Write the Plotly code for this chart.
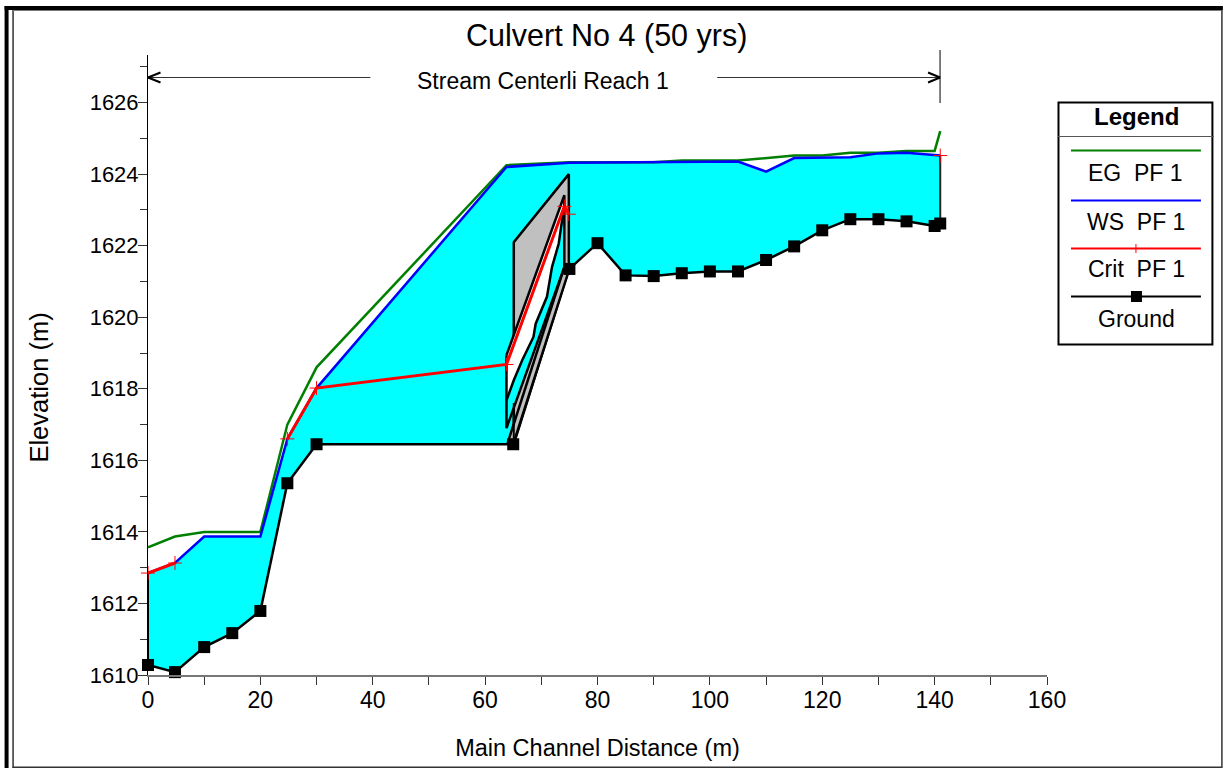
import plotly.graph_objects as go

# ---- data ----
ground_x = [0, 4.8, 10, 15, 20, 24.8, 30, 65, 75, 80, 85, 90, 95, 100, 105, 110, 115, 120, 125, 130, 135, 140, 141]
ground_y = [1610.28, 1610.08, 1610.78, 1611.17, 1611.79, 1615.36, 1616.45, 1616.45, 1621.35, 1622.07, 1621.17,
            1621.15, 1621.23, 1621.28, 1621.28, 1621.6, 1621.98, 1622.43, 1622.74, 1622.74, 1622.68, 1622.55, 1622.62]
ws_x = [0, 4.8, 10, 20, 24.8, 30, 63.8, 75, 105, 110, 115, 125, 130, 135, 141]
ws_y = [1612.85, 1613.13, 1613.87, 1613.87, 1616.6, 1618.02, 1624.2, 1624.32, 1624.35, 1624.07, 1624.45, 1624.47,
        1624.58, 1624.6, 1624.52]
eg_x = [0, 4.8, 10, 20, 24.8, 30, 63.8, 75, 90, 95, 105, 115, 120, 125, 130, 135, 140, 141]
eg_y = [1613.57, 1613.87, 1614.0, 1614.0, 1617.0, 1618.6, 1624.25, 1624.33, 1624.33, 1624.38, 1624.38, 1624.52,
        1624.52, 1624.6, 1624.6, 1624.65, 1624.65, 1625.2]
crit_x = [0, 4.8, None, 24.8, 30, 63.8, 74.1, 74.9, None, 141]
crit_y = [1612.85, 1613.13, None, 1616.6, 1618.02, 1618.68, 1623.1, 1622.88, None, 1624.52]

# culvert structure
deck_x = [65.1, 65.1, 74.9, 74.9]
deck_y = [1616.45, 1622.1, 1624.0, 1621.35]
culvert_x = [63.8, 74.1, 74.1, 63.8, 63.8]
culvert_y = [1618.94, 1623.41, 1621.4, 1616.9, 1618.94]
culvert_ws_x = [63.8, 65.1, 66.6, 68.6, 69.0, 71.0, 71.9, 73.1, 74.0]
culvert_ws_y = [1617.68, 1618.24, 1618.8, 1619.45, 1619.82, 1620.57, 1621.4, 1622.06, 1623.04]
bed_x = [64.0, 74.1]
bed_y = [1616.48, 1621.4]

title = "Culvert No 4 (50 yrs)"
reach_label = "Stream Centerli Reach 1"
x_title = "Main Channel Distance (m)"
y_title = "Elevation (m)"
legend_labels = ["EG  PF 1", "WS  PF 1", "Crit  PF 1", "Ground"]

CYAN, GREY = "#00ffff", "#c0c0c0"
FONT = "Liberation Sans, Arial, sans-serif"
W, H = 1223, 768
L, R, T, B = 147.5, 1047.0, 55.0, 675.0
XR = [0, 160]
YR = [1610, 1627.33]


def px(v):
    return (v - L) / (R - L)


def py(v):
    return (B - v) / (B - T)


fig = go.Figure()


def poly(x, y, fill, line=None, width=0):
    fig.add_trace(go.Scatter(x=x, y=y, mode="lines", fill="toself", fillcolor=fill,
                             line=dict(color=line or fill, width=width), hoverinfo="skip",
                             showlegend=False, cliponaxis=False))


def line(x, y, color, width=2.5):
    fig.add_trace(go.Scatter(x=x, y=y, mode="lines", line=dict(color=color, width=width),
                             showlegend=False, cliponaxis=False))


poly(ws_x + ground_x[::-1], ws_y + ground_y[::-1], CYAN)
poly(deck_x + deck_x[:1], deck_y + deck_y[:1], GREY, "black", 2.5)
poly(culvert_x, culvert_y, "white")
poly(culvert_ws_x + [74.1, 63.8], culvert_ws_y + [1621.4, 1616.9], CYAN)
poly(bed_x + [ground_x[8], ground_x[7]], bed_y + [ground_y[8], ground_y[7]], GREY)
line(bed_x, bed_y, "black", 2.5)
line(deck_x[:2], [deck_y[0], 1617.6], "black", 2)
line(culvert_ws_x, culvert_ws_y, "black", 2.5)
line(culvert_x, culvert_y, "black", 2.5)
line([0, 0], [ws_y[0], ground_y[0]], "black", 2)
line([141, 141], [ws_y[-1], ground_y[-1]], "#222222", 2)

fig.add_trace(go.Scatter(x=eg_x, y=eg_y, mode="lines", name="EG PF 1", line=dict(color="#008000", width=2.5),
                         showlegend=False, cliponaxis=False))
fig.add_trace(go.Scatter(x=ws_x, y=ws_y, mode="lines", name="WS PF 1", line=dict(color="#0000ff", width=2.5),
                         showlegend=False, cliponaxis=False))
fig.add_trace(go.Scatter(x=crit_x, y=crit_y, mode="lines+markers", name="Crit PF 1",
                         line=dict(color="#ff0000", width=3),
                         marker=dict(symbol="cross-thin", size=10, line=dict(color="#ff0000", width=1)),
                         showlegend=False, cliponaxis=False))
fig.add_trace(go.Scatter(x=ground_x, y=ground_y, mode="lines+markers", name="Ground",
                         line=dict(color="black", width=2.5),
                         marker=dict(symbol="square", size=12, color="black"),
                         showlegend=False, cliponaxis=False))

shapes = []


def seg(x0, y0, x1, y1, color="black", width=1):
    shapes.append(dict(type="line", xref="paper", yref="paper", x0=px(x0), y0=py(y0), x1=px(x1), y1=py(y1),
                       line=dict(color=color, width=width)))


def box(x0, y0, x1, y1, color="black", fill="black", width=0):
    shapes.append(dict(type="rect", xref="paper", yref="paper", x0=px(x0), y0=py(y0), x1=px(x1), y1=py(y1),
                       fillcolor=fill, line=dict(color=color, width=width)))


# window frame
box(4, 6, 8, 768)
box(4, 6, 1223, 10)
seg(12.5, 10, 12.5, 768, "#333333", 1.5)
seg(12, 10.5, 1221, 10.5, "#777777", 1)
seg(12, 767.3, 1222, 767.3, "#333333", 1.5)
seg(1222, 10, 1222, 768, "#333333", 1.5)

# reach arrows
seg(147.5, 77.5, 370, 77.5, "#333333", 1)
seg(717, 77.5, 940, 77.5, "#333333", 1)
seg(147.5, 77.5, 160, 72.5, "black", 2)
seg(147.5, 77.5, 160, 82.5, "black", 2)
seg(940, 77.5, 928, 72.5, "black", 2)
seg(940, 77.5, 928, 82.5, "black", 2)
seg(940, 50, 940, 103, "black", 1)

# legend panel
box(1058.5, 102.5, 1212.5, 344.5, "black", "white", 2)
seg(1058, 136.5, 1214, 136.5, "#555555", 1)
seg(1071, 150.5, 1201, 150.5, "#008000", 2)
seg(1071, 200.5, 1201, 200.5, "#0000ff", 2)
seg(1071, 248.5, 1201, 248.5, "#ff0000", 2)
seg(1136, 244, 1136, 253, "#ff0000", 1)
seg(1071, 296.5, 1201, 296.5, "black", 2)
box(1131, 291, 1142, 302)

notes = []


def text(t, x, y, size, **kw):
    notes.append(dict(text=t, x=px(x), y=py(y), xref="paper", yref="paper", showarrow=False,
                      xanchor="center", yanchor="middle", font=dict(family=FONT, size=size, color="black"), **kw))


text(title, 606, 35, 30.5)
text(reach_label, 543, 81, 23)
text(y_title, 38, 388, 25.5, textangle=-90)
text("<b>Legend</b>", 1137, 117, 24)
for label, x, y in zip(legend_labels, [1136, 1136, 1137, 1137], [173, 222, 269, 319]):
    text(label, x, y, 23)

fig.update_layout(
    width=W, height=H, autosize=False,
    margin=dict(l=L, r=W - R, t=T, b=H - B, pad=0),
    paper_bgcolor="white", plot_bgcolor="white",
    font=dict(family=FONT, color="black"),
    shapes=shapes, annotations=notes,
    xaxis=dict(range=XR, tick0=0, dtick=20, ticks="outside", ticklen=8, tickwidth=1, tickcolor="#333333",
               minor=dict(dtick=10, ticks="outside", ticklen=8, tickcolor="#333333"),
               showgrid=False, zeroline=False, showline=True, linecolor="#777777", linewidth=2,
               tickfont=dict(size=23), ticklabelstandoff=-5,
               title=dict(text=x_title, font=dict(size=23.5), standoff=28)),
    yaxis=dict(range=YR, tick0=1610, dtick=2, ticks="outside", ticklen=9, tickwidth=1, tickcolor="#333333",
               minor=dict(dtick=1, ticks="outside", ticklen=7, tickcolor="#333333"),
               showgrid=False, zeroline=False, showline=True, linecolor="black", linewidth=1,
               tickfont=dict(size=22), ticklabelstandoff=-5),
)

fig.write_html("out.html", config={"displayModeBar": False},
               post_script="document.body.style.margin='0';document.body.style.overflow='hidden';")
